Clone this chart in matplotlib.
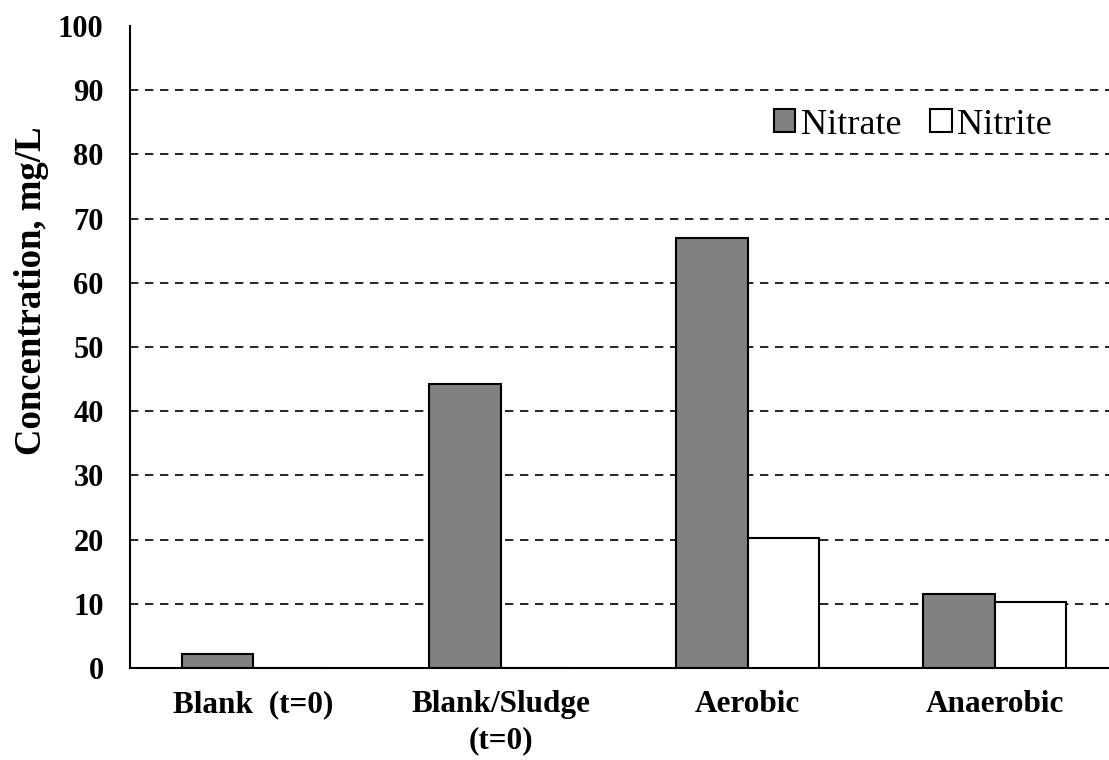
import numpy as np
from matplotlib import pyplot as plt

plt.rcParams['font.family'] = ['Liberation Serif', 'DejaVu Serif']

categories = ['Blank  (t=0)', 'Blank/Sludge\n(t=0)', 'Aerobic', 'Anaerobic']
nitrate = [2.2, 44.2, 66.9, 11.5]
nitrite = [0.0, 0.0, 20.2, 10.3]

fig = plt.figure(figsize=(11.09, 7.6), dpi=100)
ax = fig.add_axes([0.1172, 0.121, 0.891, 0.845])

x = np.arange(len(categories))
w = 0.29
ax.bar(x - w/2, nitrate, w, color='#808080', edgecolor='black', linewidth=1.5,
       label='Nitrate', zorder=3)
ax.bar(x + w/2, nitrite, w, color='white', edgecolor='black', linewidth=1.5,
       label='Nitrite', zorder=3)

ax.set_xlim(-0.5, 3.5)
ax.set_ylim(0, 100)
ax.set_yticks(np.arange(0, 101, 10))
for yv in range(10, 100, 10):
    ax.axhline(yv, color='black', linestyle=(0, (5, 4)), linewidth=1.2, zorder=1)

ax.set_xticks(x)
ax.set_xticklabels(categories, fontsize=22.5, fontweight='bold', linespacing=1.3)
ax.tick_params(axis='x', length=0, pad=16)
ax.tick_params(axis='y', length=0, labelsize=22, pad=19)
for lab in ax.get_yticklabels():
    lab.set_fontweight('bold')

ax.set_ylabel('Concentration, mg/L', fontsize=26.5, fontweight='bold')
ax.yaxis.set_label_coords(-0.082, 0.587)

for s in ['top', 'right']:
    ax.spines[s].set_visible(False)
for s in ['left', 'bottom']:
    ax.spines[s].set_linewidth(1.5)

ax.legend(loc='upper right', bbox_to_anchor=(0.955, 0.905), ncol=2, frameon=False,
          fontsize=26, handlelength=0.6, handleheight=0.6, handletextpad=0.15,
          columnspacing=0.8, borderaxespad=0.2)

fig.savefig('out.png', dpi=100)
